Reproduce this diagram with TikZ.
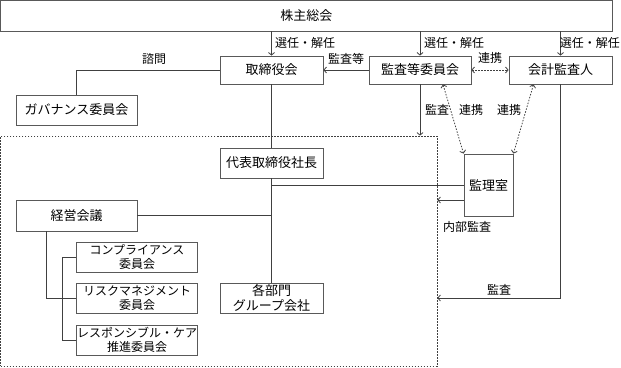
\documentclass[tikz,border=0pt]{standalone}
\usepackage{fontspec}
\newfontfamily\jp{Noto Sans CJK JP}
\usetikzlibrary{arrows.meta,calc}
\definecolor{boxgray}{gray}{0.35}
\definecolor{linegray}{gray}{0.25}
\begin{document}
\begin{tikzpicture}[x=1pt,y=-1pt,
  font=\jp\fontsize{12}{14}\selectfont,
  box/.style={draw=boxgray, line width=0.9pt, fill=white, inner sep=0pt, align=center,
    minimum width=103pt, minimum height=28pt, font=\jp\fontsize{13}{15}\selectfont},
  sbox/.style={box, minimum width=121pt, minimum height=30pt, font=\jp\fontsize{12}{14}\selectfont},
  ln/.style={draw=linegray, line width=0.8pt},
  arr/.style={ln, -{Straight Barb[length=2.5pt,width=6pt]}},
  dotln/.style={draw=linegray, line width=0.8pt, dash pattern=on 1.5pt off 1.5pt},
  dotarr/.style={dotln, {Straight Barb[length=2.5pt,width=6pt]}-{Straight Barb[length=2.5pt,width=6pt]}},
  lab/.style={inner sep=0pt}
]
\useasboundingbox (0,0) rectangle (621,367);

% dotted group
\node[dotln, draw, minimum width=436.5pt, minimum height=230pt, inner sep=0pt] (grp) at (218.75,251) {};

% boxes
\node[box, minimum width=611.5pt, minimum height=30.5pt] (sh) at (306.25,15.75) {株主総会};
\node[box] (tor) at (271.5,70) {取締役会};
\node[box, minimum width=102pt] (kan) at (420,70) {監査等委員会};
\node[box] (kai) at (560.5,70) {会計監査人};
\node[box, minimum width=121pt, minimum height=30pt] (gov) at (76.5,110) {ガバナンス委員会};
\node[box, minimum height=30pt] (pres) at (271.5,163) {代表取締役社長};
\node[box, minimum width=121pt, minimum height=31pt] (kei) at (76.5,215.5) {経営会議};
\node[sbox] (comp) at (137,257) {コンプライアンス\\委員会};
\node[sbox] (risk) at (137,298) {リスクマネジメント\\委員会};
\node[sbox] (resp) at (137,340) {レスポンシブル・ケア\\推進委員会};
\node[box, minimum height=30pt] (kaku) at (271.5,298) {各部門\\グループ会社};
\node[box, minimum width=49pt, minimum height=62pt] (kanri) at (488.5,185) {監理室};

% election arrows
\draw[arr] (sh.south -| tor.north) -- (tor.north);
\draw[arr] (sh.south -| kan.north) -- (kan.north);
\draw[arr] (sh.south -| kai.north) -- (kai.north);
\node[lab, anchor=west] (l1) at (275,43) {選任・解任};
\node[lab, anchor=west] (l2) at (424,43) {選任・解任};
\node[lab, anchor=east] (l3) at (620,43) {選任・解任};

% advisory
\draw[ln] (tor.west) -| (gov.north);
\node[lab] (l4) at (154,59) {諮問};

% audit etc
\draw[arr] (kan.west) -- (tor.east);
\node[lab] (l5) at (346,59) {監査等};

\draw[dotarr] (kan.east) -- (kai.west);
\node[lab] (l6) at (490,58) {連携};

% audit down
\draw[arr] (kan.south) -- (kan.south |- grp.north);
\node[lab] (l7) at (437,110) {監査};

% cooperation to kanri
\coordinate (c1) at ($(kan.south)+(23,0)$);
\coordinate (c2) at ($(kai.south)+(-27,0)$);
\draw[dotarr] (c1) -- (kanri.north west);
\draw[dotarr] (c2) -- (kanri.north east);
\node[lab] (l8) at (471,110) {連携};
\node[lab] (l9) at (509,110) {連携};

% trunk
\draw[ln] (tor.south) -- (pres.north);
\draw[ln] (pres.south) -- (kaku.north);
\draw[ln] (kanri.west) -- (kanri.west -| pres.south);
\coordinate (ia) at ($(kanri.west)+(0,15)$);
\draw[arr] (ia) -- (ia -| grp.east);
\node[lab] (l10) at (467,227) {内部監査};

\draw[ln] (kei.east) -- (kei.east -| pres.south);

% accounting audit
\draw[arr] (kai.south) |- (grp.east |- kaku.center);
\node[lab] (l11) at (499,290) {監査};

% committee brackets
\coordinate (b1) at ($(kei.south west)+(31,0)$);
\draw[ln] (b1) |- (risk.west);
\coordinate (b2) at ($(comp.west)+(-14,0)$);
\draw[ln] (comp.west) -- (b2) |- (resp.west);
\end{tikzpicture}
\end{document}
